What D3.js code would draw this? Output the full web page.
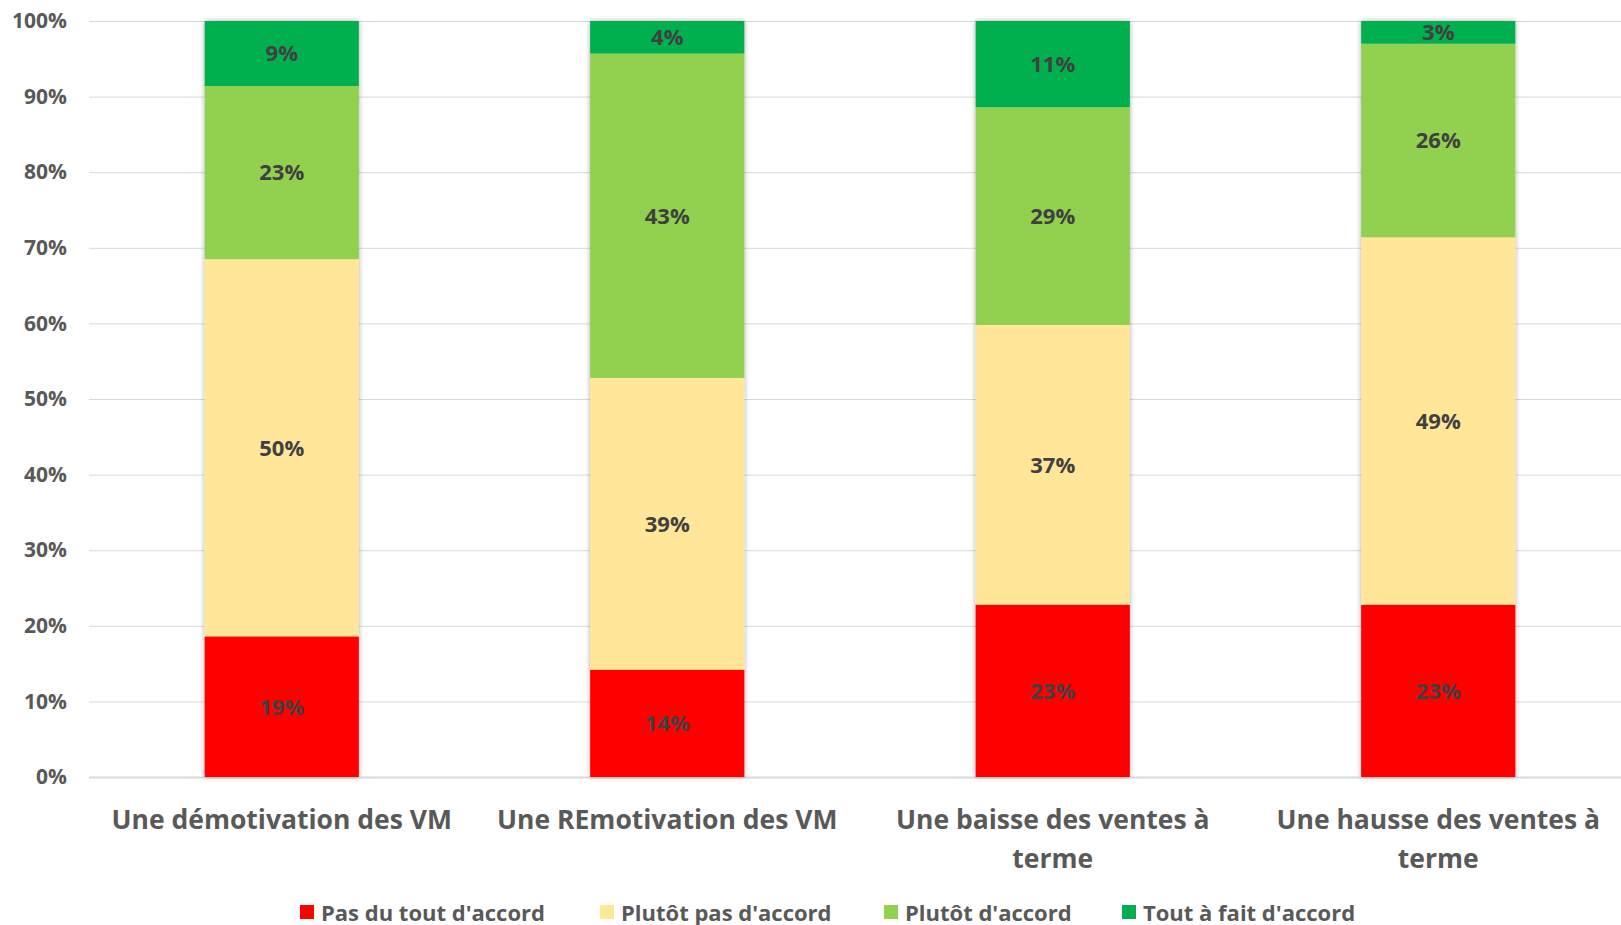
<!DOCTYPE html>
<html>
<head>
<meta charset="utf-8">
<script src="https://cdn.jsdelivr.net/npm/d3@7"></script>
<style>
  body { margin: 0; background: #fff; overflow: hidden; }
  text { font-family: "Open Sans", sans-serif; }
</style>
</head>
<body>
<div class="chart"></div>
<script>
// categories and series (percent values)
const categories = [
    ["Une démotivation des VM"],
    ["Une REmotivation des VM"],
    ["Une baisse des ventes à", "terme"],
    ["Une hausse des ventes à", "terme"]
];
const seriesNames = ["Pas du tout d'accord", "Plutôt pas d'accord", "Plutôt d'accord", "Tout à fait d'accord"];
const pasDuTout = [18.6, 14.2, 22.8, 22.8];
const plutotPas = [49.9, 38.6, 37.0, 48.6];
const plutot = [22.9, 42.9, 28.8, 25.6];
const toutAFait = [8.6, 4.3, 11.4, 3.0];
const yTicks = [0, 10, 20, 30, 40, 50, 60, 70, 80, 90, 100];
const colors = ["#ff0000", "#ffe699", "#92d050", "#00b050"];

const width = 1621;
const height = 925;
const margin = { top: 21, left: 89, right: -10, bottom: 148 };

const rows = categories.map((c, i) => ({
    key: i,
    s0: pasDuTout[i],
    s1: plutotPas[i],
    s2: plutot[i],
    s3: toutAFait[i]
}));
const keys = ["s0", "s1", "s2", "s3"];
const stacked = d3.stack().keys(keys)(rows);

const svg = d3.select(".chart")
    .append("svg")
    .attr("width", width)
    .attr("height", height);

const defs = svg.append("defs");
const shadow = defs.append("filter")
    .attr("id", "shadow")
    .attr("x", "-10%").attr("y", "-10%")
    .attr("width", "120%").attr("height", "120%");
shadow.append("feDropShadow")
    .attr("dx", 0).attr("dy", 0)
    .attr("stdDeviation", 2.5)
    .attr("flood-color", "#000")
    .attr("flood-opacity", 0.35);

const xScale = d3.scaleBand()
    .domain(rows.map(d => d.key))
    .range([margin.left, width - margin.right])
    .paddingInner(0.6)
    .paddingOuter(0.3);

const yScale = d3.scaleLinear()
    .domain([0, 100])
    .range([height - margin.bottom, margin.top]);

// gridlines + y labels
const yAxis = d3.axisLeft(yScale)
    .tickValues(yTicks)
    .tickSize(-(width - margin.left))
    .tickFormat(d => d + "%");

const gy = svg.append("g")
    .attr("transform", "translate(" + margin.left + ",0)")
    .call(yAxis);
gy.select(".domain").remove();
gy.selectAll(".tick line")
    .attr("stroke", "#d9d9d9")
    .attr("stroke-width", d => d === 0 ? 2 : 1);
gy.selectAll(".tick text")
    .attr("x", -22)
    .attr("fill", "#595959")
    .style("font-size", "21px")
    .style("font-weight", 700);

// bars
const layer = svg.append("g").attr("filter", "url(#shadow)");
stacked.forEach((s, si) => {
    layer.selectAll(".bar" + si)
        .data(s)
        .enter()
        .append("rect")
        .attr("x", (d, i) => xScale(i))
        .attr("y", d => yScale(d[1]))
        .attr("width", xScale.bandwidth())
        .attr("height", d => yScale(d[0]) - yScale(d[1]))
        .attr("fill", colors[si]);
});

// value labels
const labels = svg.append("g");
stacked.forEach((s, si) => {
    labels.selectAll(".lab" + si)
        .data(s)
        .enter()
        .append("text")
        .attr("x", (d, i) => xScale(i) + xScale.bandwidth() / 2)
        .attr("y", d => (yScale(d[0]) + yScale(d[1])) / 2)
        .attr("dy", "0.36em")
        .attr("text-anchor", "middle")
        .attr("fill", "#404040")
        .style("font-size", "22px")
        .style("font-weight", 700)
        .text(d => Math.round(d[1] - d[0]) + "%");
});

// category labels
const xl = svg.append("g");
categories.forEach((lines, i) => {
    const t = xl.append("text")
        .attr("x", xScale(i) + xScale.bandwidth() / 2)
        .attr("y", 829)
        .attr("text-anchor", "middle")
        .attr("fill", "#595959")
        .style("font-size", "26.5px")
        .style("font-weight", 700);
    lines.forEach((l, j) => {
        t.append("tspan")
            .attr("x", xScale(i) + xScale.bandwidth() / 2)
            .attr("dy", j === 0 ? 0 : 39)
            .text(l);
    });
});

// legend
const legendX = [300, 600, 884, 1122];
const legend = svg.append("g");
seriesNames.forEach((name, i) => {
    legend.append("rect")
        .attr("x", legendX[i])
        .attr("y", 905)
        .attr("width", 14)
        .attr("height", 14)
        .attr("fill", colors[i]);
    legend.append("text")
        .attr("x", legendX[i] + 21)
        .attr("y", 921)
        .attr("fill", "#595959")
        .style("font-size", "22px")
        .style("font-weight", 700)
        .text(name);
});
</script>
</body>
</html>
